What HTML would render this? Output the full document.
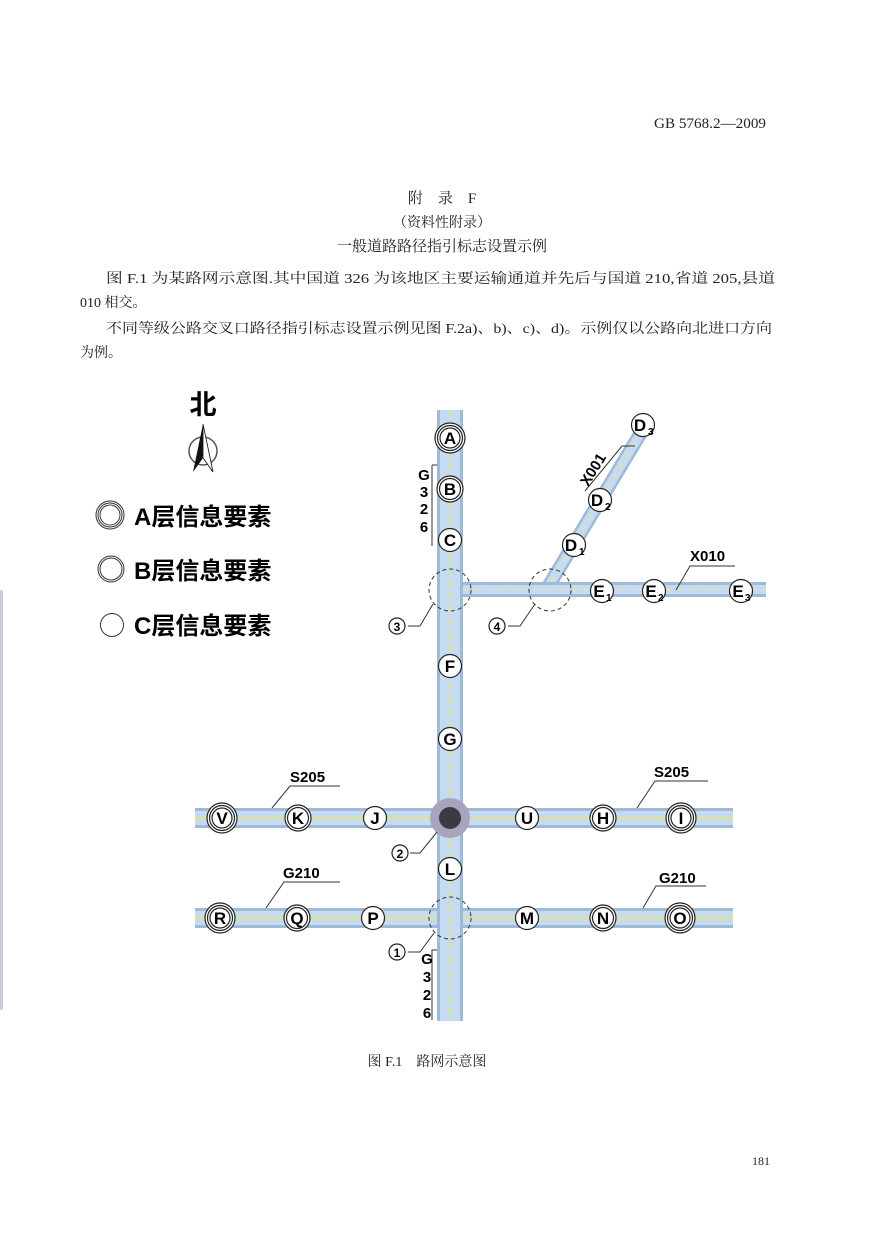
<!DOCTYPE html>
<html><head><meta charset="utf-8">
<style>
html,body{margin:0;padding:0;background:#fff;}
svg{display:block;}
.t{font-family:"Liberation Serif","Noto Serif CJK SC","Noto Sans CJK SC",serif;fill:#222;}
.b{font-family:"Liberation Sans","Noto Sans CJK SC",sans-serif;font-weight:bold;fill:#000;}
</style></head><body>
<svg width="883" height="1246" viewBox="0 0 883 1246" xmlns="http://www.w3.org/2000/svg">
<rect width="883" height="1246" fill="#fff"/>
<rect x="0" y="590" width="3" height="420" fill="#ccd"/>
<text x="654" y="128" class="t" font-size="15" font-family="Liberation Sans" textLength="112" lengthAdjust="spacingAndGlyphs">GB 5768.2—2009</text>
<text x="442" y="203" class="t" font-size="15" text-anchor="middle">附　录　F</text>
<text x="442" y="227" class="t" font-size="14" text-anchor="middle">（资料性附录）</text>
<text x="442" y="251" class="t" font-size="15" text-anchor="middle">一般道路路径指引标志设置示例</text>
<text x="106" y="283" class="t" font-size="14" textLength="669" lengthAdjust="spacingAndGlyphs">图 F.1 为某路网示意图.其中国道 326 为该地区主要运输通道并先后与国道 210,省道 205,县道</text>
<text x="80" y="307" class="t" font-size="14">010 相交。</text>
<text x="106" y="333" class="t" font-size="14" textLength="666" lengthAdjust="spacingAndGlyphs">不同等级公路交叉口路径指引标志设置示例见图 F.2a)、b)、c)、d)。示例仅以公路向北进口方向</text>
<text x="80" y="357" class="t" font-size="14">为例。</text>

<g>
<line x1="545" y1="592" x2="645" y2="426" stroke="#9fb9d8" stroke-width="14"/>
<line x1="545" y1="592" x2="645" y2="426" stroke="#c6daf0" stroke-width="9"/>
<line x1="545" y1="592" x2="645" y2="426" stroke="#e8e8a0" stroke-width="1.2" stroke-dasharray="6 6"/>
<rect x="450" y="582" width="316" height="15" fill="#9fb9d8"/>
<rect x="450" y="585" width="316" height="9" fill="#c6daf0"/>
<line x1="450" y1="589.5" x2="766" y2="589.5" stroke="#e8e8a0" stroke-width="1.2" stroke-dasharray="6 6"/>
<rect x="195" y="808" width="538" height="20" fill="#9fb9d8"/>
<rect x="195" y="811" width="538" height="14" fill="#c6daf0"/>
<line x1="195" y1="818" x2="733" y2="818" stroke="#dde39a" stroke-width="2.5"/>
<rect x="195" y="908" width="538" height="20" fill="#9fb9d8"/>
<rect x="195" y="911" width="538" height="14" fill="#c6daf0"/>
<line x1="195" y1="918" x2="733" y2="918" stroke="#dde39a" stroke-width="2.5"/>
<rect x="437" y="410" width="26" height="611" fill="#9fb9d8"/>
<rect x="440" y="410" width="20" height="611" fill="#c6daf0"/>
<line x1="450" y1="410" x2="450" y2="1021" stroke="#dde39a" stroke-width="2" stroke-dasharray="8 5"/>
</g>
<circle cx="450" cy="818" r="20" fill="#a8a4bc"/>
<circle cx="450" cy="818" r="11" fill="#3a3a44"/>

<g fill="none" stroke="#333" stroke-width="1" stroke-dasharray="4 3">
<circle cx="450" cy="590" r="21"/>
<circle cx="550" cy="590" r="21"/>
<circle cx="450" cy="918" r="21"/>
</g>
<g fill="none" stroke="#333" stroke-width="1">
<polyline points="408,626 420,626 433,604"/>
<polyline points="508,626 520,626 535,604"/>
<polyline points="410,853 420,853 437,832"/>
<polyline points="408,952 420,952 434,933"/>
<polyline points="272,808 290,786 340,786"/>
<polyline points="637,808 655,781 708,781"/>
<polyline points="266,908 284,882 340,882"/>
<polyline points="643,908 656,886 706,886"/>
<polyline points="676,590 690,566 735,566"/>
<polyline points="585,491 622,446 635,446"/>
<polyline points="432,465 432,546"/>
<polyline points="437,465 432,465"/>
<polyline points="432,1020 432,950 437,950"/>
</g>
<g font-family="Liberation Sans" font-size="12" font-weight="bold">
<text x="397" y="631" text-anchor="middle">3</text>
<text x="497" y="631" text-anchor="middle">4</text>
<text x="400" y="858" text-anchor="middle">2</text>
<text x="397" y="957" text-anchor="middle">1</text>
</g>
<g fill="none" stroke="#222" stroke-width="1.2">
<circle cx="397" cy="626" r="8"/><circle cx="497" cy="626" r="8"/>
<circle cx="400" cy="853" r="8"/><circle cx="397" cy="952" r="8"/>
</g>
<g class="b" font-size="15">
<text x="290" y="782">S205</text>
<text x="654" y="777">S205</text>
<text x="283" y="878">G210</text>
<text x="659" y="883">G210</text>
<text x="690" y="561">X010</text>
<text x="0" y="0" transform="translate(588,487) rotate(-58)">X001</text>
</g>
<g class="b" font-size="15" text-anchor="middle">
<text x="424" y="480">G</text><text x="424" y="497">3</text><text x="424" y="514">2</text><text x="424" y="532">6</text>
<text x="427" y="964">G</text><text x="427" y="982">3</text><text x="427" y="1000">2</text><text x="427" y="1018">6</text>
</g>

<g fill="#fff" stroke="#222" stroke-width="1.2">
<g><circle cx="450" cy="438" r="15"/><circle cx="450" cy="438" r="12.5"/><circle cx="450" cy="438" r="10"/></g>
<g><circle cx="222" cy="818" r="15"/><circle cx="222" cy="818" r="12.5"/><circle cx="222" cy="818" r="10"/></g>
<g><circle cx="681" cy="818" r="15"/><circle cx="681" cy="818" r="12.5"/><circle cx="681" cy="818" r="10"/></g>
<g><circle cx="220" cy="918" r="15"/><circle cx="220" cy="918" r="12.5"/><circle cx="220" cy="918" r="10"/></g>
<g><circle cx="680" cy="918" r="15"/><circle cx="680" cy="918" r="12.5"/><circle cx="680" cy="918" r="10"/></g>
<g><circle cx="450" cy="489" r="13"/><circle cx="450" cy="489" r="10.5"/></g>
<g><circle cx="298" cy="818" r="13"/><circle cx="298" cy="818" r="10.5"/></g>
<g><circle cx="603" cy="818" r="13"/><circle cx="603" cy="818" r="10.5"/></g>
<g><circle cx="297" cy="918" r="13"/><circle cx="297" cy="918" r="10.5"/></g>
<g><circle cx="603" cy="918" r="13"/><circle cx="603" cy="918" r="10.5"/></g>
<circle cx="450" cy="540" r="11.5"/><circle cx="450" cy="666" r="11.5"/><circle cx="450" cy="739" r="11.5"/>
<circle cx="375" cy="818" r="11.5"/><circle cx="527" cy="818" r="11.5"/><circle cx="450" cy="869" r="11.5"/>
<circle cx="373" cy="918" r="11.5"/><circle cx="527" cy="918" r="11.5"/>
<circle cx="574" cy="545" r="11.5"/><circle cx="600" cy="500" r="11.5"/><circle cx="643" cy="425" r="11.5"/>
<circle cx="602" cy="591" r="11.5"/><circle cx="654" cy="591" r="11.5"/><circle cx="741" cy="591" r="11.5"/>
</g>
<g class="b" font-size="17" text-anchor="middle">
<text x="450" y="444">A</text><text x="450" y="495">B</text><text x="450" y="546">C</text>
<text x="450" y="672">F</text><text x="450" y="745">G</text>
<text x="222" y="824">V</text><text x="298" y="824">K</text><text x="375" y="824">J</text>
<text x="527" y="824">U</text><text x="603" y="824">H</text><text x="681" y="824">I</text>
<text x="450" y="875">L</text>
<text x="220" y="924">R</text><text x="297" y="924">Q</text><text x="373" y="924">P</text>
<text x="527" y="924">M</text><text x="603" y="924">N</text><text x="680" y="924">O</text>
<text x="571" y="551">D</text><text x="597" y="506">D</text><text x="640" y="431">D</text>
<text x="599" y="597">E</text><text x="651" y="597">E</text><text x="738" y="597">E</text>
</g>
<g class="b" font-size="10">
<text x="579" y="555">1</text><text x="605" y="510">2</text><text x="648" y="435">3</text>
<text x="606" y="601">1</text><text x="658" y="601">2</text><text x="745" y="601">3</text>
</g>

<text x="203" y="414" class="b" font-size="27" text-anchor="middle">北</text>
<circle cx="203" cy="451" r="14" fill="none" stroke="#555" stroke-width="1.5"/>
<polygon points="203,424 193,472 203,458" fill="#111"/>
<polygon points="203,424 213,472 203,458" fill="#fff" stroke="#111" stroke-width="0.8"/>

<g fill="none" stroke="#333" stroke-width="1">
<circle cx="110" cy="515" r="14"/><circle cx="110" cy="515" r="12"/><circle cx="110" cy="515" r="10"/>
<circle cx="111" cy="569" r="13"/><circle cx="111" cy="569" r="11"/>
<circle cx="112" cy="625" r="11.5"/>
</g>
<g class="b" font-size="24">
<text x="134" y="525">A层信息要素</text>
<text x="134" y="579">B层信息要素</text>
<text x="134" y="634">C层信息要素</text>
</g>

<text x="427" y="1066" class="t" font-size="14" text-anchor="middle">图 F.1　路网示意图</text>
<text x="752" y="1165" class="t" font-size="12">181</text>
</svg>
</body></html>
